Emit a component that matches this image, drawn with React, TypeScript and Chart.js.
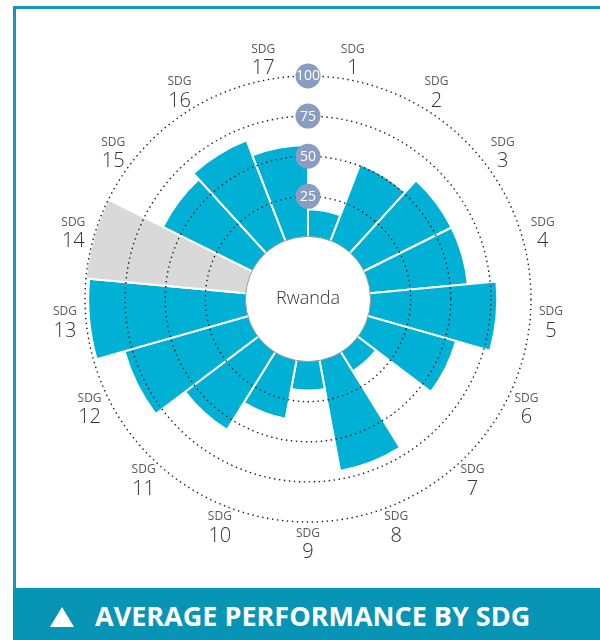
import { useEffect, useRef } from 'react';
import Chart from 'chart.js/auto';

// ---- data ----
const sdgNumbers: string[] = ['1', '2', '3', '4', '5', '6', '7', '8', '9', '10', '11', '12', '13', '14', '15', '16', '17'];
const sdgScores: (number | null)[] = [17, 51, 61, 61, 79, 57, 14, 70, 18, 37, 57, 80, 98, null, 62, 67, 57];
const ringTicks: number[] = [25, 50, 75, 100];
const labelPrefix = 'SDG';
const countryName = 'Rwanda';
const bannerTitle = 'AVERAGE PERFORMANCE BY SDG';

// ---- style ----
const SCALE_MIN = -39; // hollow centre
const SCALE_MAX = 100;
const BAR = '#00b1d5';
const NODATA = '#d9d9d9';
const BADGE = '#8b9cc2';
const LINE = '#1598b9';
const BANNER = '#0894b4';
const FONT = '"Open Sans", "Noto Sans", sans-serif';

export default function App() {
  const ref = useRef<HTMLCanvasElement>(null);

  useEffect(() => {
    if (!ref.current) return;

    const overlay = {
      id: 'overlay',
      afterDatasetsDraw(chart: any) {
        const s = chart.scales.r;
        const ctx = chart.ctx;
        const r0 = s.getDistanceFromCenterForValue(0);
        ctx.save();
        ctx.beginPath();
        ctx.arc(s.xCenter, s.yCenter, r0, 0, Math.PI * 2);
        ctx.fillStyle = '#ffffff';
        ctx.fill();
        ctx.lineWidth = 1;
        ctx.strokeStyle = '#9a9a9a';
        ctx.stroke();
        ctx.fillStyle = '#333333';
        ctx.font = `300 18px ${FONT}`;
        ctx.textAlign = 'center';
        ctx.textBaseline = 'middle';
        ctx.fillText(countryName, s.xCenter, s.yCenter);
        ctx.restore();
      },
      afterDraw(chart: any) {
        const s = chart.scales.r;
        const ctx = chart.ctx;
        ctx.save();
        ctx.textAlign = 'center';
        ctx.textBaseline = 'middle';
        // ring value badges
        ringTicks.forEach((v) => {
          const r = s.getDistanceFromCenterForValue(v);
          const y = s.yCenter - r;
          ctx.beginPath();
          ctx.arc(s.xCenter, y, 12.5, 0, Math.PI * 2);
          ctx.fillStyle = BADGE;
          ctx.fill();
          ctx.fillStyle = '#ffffff';
          ctx.font = `14px ${FONT}`;
          ctx.fillText(String(v), s.xCenter, y + 0.5);
        });
        // SDG labels around
        const n = sdgNumbers.length;
        const rLab = s.getDistanceFromCenterForValue(SCALE_MAX) * (244 / 223);
        sdgNumbers.forEach((num, i) => {
          const a = -Math.PI / 2 + ((i + 0.5) * 2 * Math.PI) / n;
          const x = s.xCenter + rLab * Math.cos(a);
          const y = s.yCenter + rLab * Math.sin(a);
          ctx.fillStyle = '#5a5a5a';
          ctx.font = `12px ${FONT}`;
          ctx.fillText(labelPrefix, x, y - 9.5);
          ctx.fillStyle = '#333333';
          ctx.font = `300 20px ${FONT}`;
          ctx.fillText(num, x, y + 9.5);
        });
        ctx.restore();
      },
    };

    const chart = new Chart(ref.current, {
      type: 'polarArea',
      data: {
        labels: sdgNumbers.map((n) => `${labelPrefix} ${n}`),
        datasets: [
          {
            data: sdgScores.map((v) => (v == null ? SCALE_MAX : v)),
            backgroundColor: sdgScores.map((v) => (v == null ? NODATA : BAR)),
            borderColor: '#ffffff',
            borderWidth: 2,
          },
        ],
      },
      options: {
        responsive: false,
        animation: false,
        events: [],
        layout: { padding: { left: 85, right: 69, top: 76, bottom: 118 } },
        plugins: { legend: { display: false }, tooltip: { enabled: false } },
        scales: {
          r: {
            min: SCALE_MIN,
            max: SCALE_MAX,
            beginAtZero: false,
            startAngle: 0,
            afterBuildTicks: (scale: any) => {
              scale.ticks = ringTicks.map((v) => ({ value: v }));
            },
            ticks: { display: false, z: 2 },
            grid: { z: 1, circular: true, color: '#1a1a1a', lineWidth: 1.4, borderDash: [1.4, 3.6] } as any,
            border: { dash: [1.4, 3.6] } as any,
            angleLines: { display: false },
            pointLabels: { display: false },
          },
        },
      },
      plugins: [overlay],
    } as any);

    return () => chart.destroy();
  }, []);

  return (
    <div style={{ position: 'absolute', left: 0, top: 0, width: 600, height: 640, overflow: 'hidden', background: '#fff' }}>
      <canvas ref={ref} width={600} height={640} style={{ position: 'absolute', left: 0, top: 0 }} />
      <div style={{ position: 'absolute', left: 13, top: 6, right: 0, height: 3, background: LINE }} />
      <div style={{ position: 'absolute', left: 13, top: 6, width: 3, bottom: 0, background: LINE }} />
      <div style={{ position: 'absolute', left: 13, top: 588, right: 0, bottom: 0, background: BANNER }}>
        <div
          style={{
            position: 'absolute',
            left: 37,
            top: 19,
            width: 0,
            height: 0,
            borderLeft: '12px solid transparent',
            borderRight: '12px solid transparent',
            borderBottom: '20px solid #ffffff',
          }}
        />
        <div
          style={{
            position: 'absolute',
            left: 82,
            top: 9,
            color: '#ffffff',
            fontFamily: FONT,
            fontWeight: 700,
            fontSize: 27,
            lineHeight: 'normal',
            whiteSpace: 'nowrap',
          }}
        >
          {bannerTitle}
        </div>
      </div>
    </div>
  );
}
